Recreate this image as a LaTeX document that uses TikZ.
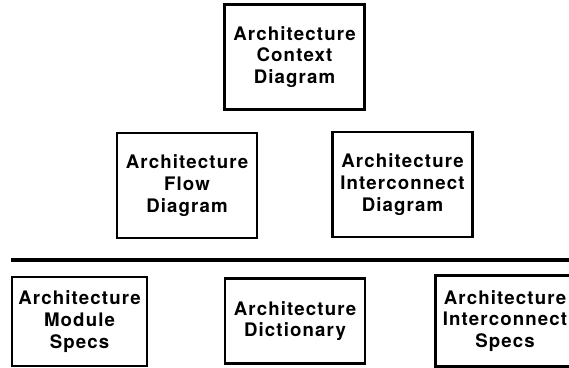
\documentclass[tikz,border=0pt]{standalone}
\usepackage{fontspec}
\setmainfont{TeX Gyre Heros}[LetterSpace=6]
\usetikzlibrary{positioning}

\begin{document}
\begin{tikzpicture}[x=0.75pt,y=0.75pt,yscale=-1,xscale=1,
    docbox/.style={draw,line width=1.8pt,inner sep=0pt,align=center,
        font=\fontsize{14}{16.2}\selectfont\bfseries,
        minimum width=105pt,minimum height=79pt}]
                    %set diagram size to 569 x 368
                    \useasboundingbox (0,0) rectangle (569,368);
                    
                    % Text Node
                    \node[docbox] (ctx) at (294.5,57) {Architecture\\Context\\Diagram};
                    % Text Node
                    \node[docbox] (flow) at (187,185.5) {Architecture\\Flow\\Diagram};
                    % Text Node
                    \node[docbox] (icd) at (402.5,184.5) {Architecture\\Interconnect\\Diagram};
                    
                    %Straight Lines
                    \draw[line width=2.8pt] (11,260) -- (569,260);
                    
                    % Text Node
                    \node[docbox,minimum width=101pt,minimum height=67pt] (mod) at (79.5,321.5) {Architecture\\Module\\Specs};
                    % Text Node
                    \node[docbox,minimum width=105pt,minimum height=64pt] (dict) at (295,321) {Architecture\\Dictionary};
                    % Text Node
                    \node[docbox,minimum width=104pt,minimum height=68pt] (ics) at (505,321) {Architecture\\Interconnect\\Specs};
                    
\end{tikzpicture}
\end{document}
